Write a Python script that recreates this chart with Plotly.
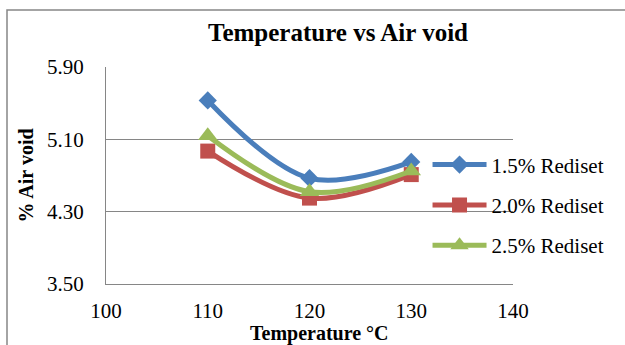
import plotly.graph_objects as go

temperature = [110, 120, 130]
rediset_15 = [5.53, 4.67, 4.85]
rediset_20 = [4.97, 4.45, 4.71]
rediset_25 = [5.14, 4.52, 4.75]
series_names = ["1.5% Rediset", "2.0% Rediset", "2.5% Rediset"]
y_ticks = [3.50, 4.30, 5.10, 5.90]
x_ticks = [100, 110, 120, 130, 140]

FONT = "Liberation Serif, Times New Roman, serif"
colors = ["#4A7EBB", "#C0504D", "#9BBB59"]
symbols = ["diamond", "square", "triangle-up"]
sizes = [14, 15, 17]

fig = go.Figure()
for i, (name, vals) in enumerate(zip(series_names, [rediset_15, rediset_20, rediset_25])):
    fig.add_trace(go.Scatter(
        x=temperature, y=vals, name=name, mode="lines+markers",
        line=dict(color=colors[i], width=5, shape="spline", smoothing=1),
        marker=dict(symbol=symbols[i], size=sizes[i], color=colors[i]),
        legendgroup=str(i),
    ))

fig.update_layout(
    width=625, height=345,
    margin=dict(l=106, r=112, t=67, b=61, autoexpand=False),
    paper_bgcolor="white", plot_bgcolor="white",
    font=dict(family=FONT, size=21, color="black"),
    title=dict(text="<b>Temperature vs Air void</b>", x=338/625, xanchor="center",
               y=1 - 32/345, yanchor="middle", font=dict(family=FONT, size=25, color="black")),
    legend=dict(x=0.79, y=0.643, xanchor="left", yanchor="top",
                bgcolor="rgba(0,0,0,0)", tracegroupgap=10,
                font=dict(family=FONT, size=21, color="black"), itemwidth=54),
    showlegend=True,
)
fig.update_xaxes(range=[100, 140], tickvals=x_ticks, ticktext=[str(v) for v in x_ticks],
                 showgrid=False, showline=True, linecolor="#868686", linewidth=1,
                 zeroline=False, ticks="", tickfont=dict(family=FONT, size=21),
                 ticklabelstandoff=8, automargin=False)
fig.update_yaxes(range=[3.50, 5.90], tickvals=y_ticks, ticktext=[f"{v:.2f}" for v in y_ticks],
                 showgrid=True, gridcolor="#868686", gridwidth=1,
                 showline=True, linecolor="#868686", linewidth=1,
                 zeroline=False, ticks="", tickfont=dict(family=FONT, size=21),
                 ticklabelstandoff=17, automargin=False,
                 title=dict(text="<b>% Air void</b>", font=dict(family=FONT, size=20), standoff=8))

fig.add_annotation(text="<b>Temperature °C</b>", xref="paper", yref="paper",
                   x=(319 - 106) / 407, y=-(333 - 284) / 217, xanchor="center", yanchor="middle",
                   showarrow=False, font=dict(family=FONT, size=20, color="black"))

fig.add_shape(type="rect", xref="paper", yref="paper",
              x0=(7 - 106) / 407, x1=1.4, y0=-0.4, y1=1 + (67 - 10) / 217,
              line=dict(color="#868686", width=1.5), fillcolor="rgba(0,0,0,0)", layer="below")

fig.write_html("out.html")
